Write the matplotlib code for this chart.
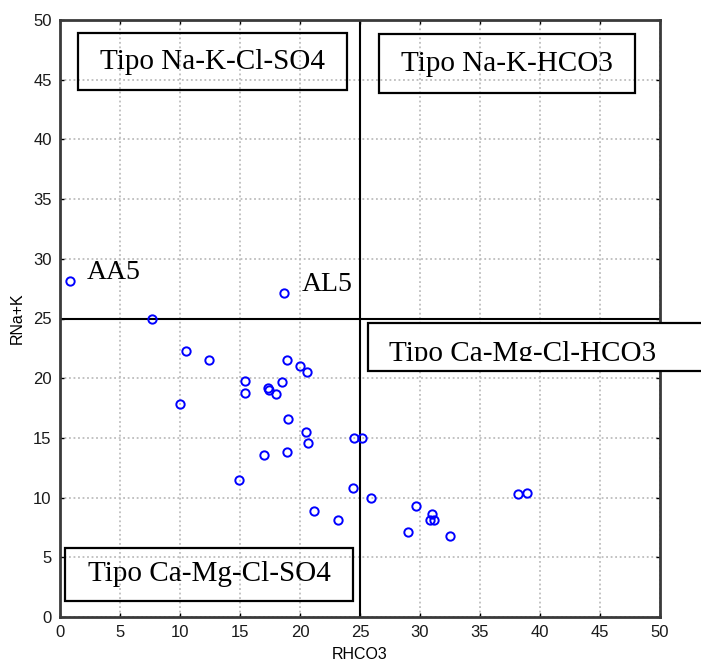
import matplotlib.pyplot as plt
import matplotlib.patches as patches
import numpy as np

# bicarbonate vs alkali ratios for each sample
rhco3 = [0.8, 7.7, 10.5, 12.4, 18.7, 18.9, 20.0, 20.6, 15.4, 15.4,
         17.3, 17.4, 18.0, 18.5, 10.0, 19.0, 20.5, 20.7, 24.5, 25.2,
         17.0, 18.9, 14.9, 24.4, 25.9, 21.2, 23.2, 29.7, 31.0, 30.8,
         31.2, 29.0, 32.5, 38.2, 38.9]
rnak = [28.1, 25.0, 22.3, 21.5, 27.1, 21.5, 21.0, 20.5, 19.8, 18.8,
        19.2, 19.0, 18.7, 19.7, 17.8, 16.6, 15.5, 14.6, 15.0, 15.0,
        13.6, 13.8, 11.5, 10.8, 10.0, 8.9, 8.1, 9.3, 8.6, 8.1,
        8.1, 7.1, 6.8, 10.3, 10.4]

# labelled samples
sample_names = ['AA5', 'AL5']
sample_x = [0.8, 18.7]
sample_y = [28.1, 27.1]

# quadrant limits
lim_hco3 = 25
lim_nak = 25

fig = plt.figure(figsize=(7.01, 6.68), dpi=100)
ax = fig.add_axes([60 / 701, 51 / 668, 600 / 701, 597 / 668])

ax.set_xlim(0, 50)
ax.set_ylim(0, 50)
ax.set_xticks(np.arange(0, 51, 5))
ax.set_yticks(np.arange(0, 51, 5))
ax.grid(ls=(0, (1, 1.5)), color='#bdbdbd', lw=1.3)
ax.set_axisbelow(True)
ax.tick_params(direction='in', length=3, width=1, top=True, right=True,
               labelsize=12, labelcolor='#1a1a1a', pad=6)
for lab in ax.get_xticklabels() + ax.get_yticklabels():
    lab.set_family('Liberation Sans')
for sp in ax.spines.values():
    sp.set_linewidth(2)
    sp.set_color('#3a3a3a')

ax.axvline(lim_hco3, color='k', lw=1.5)
ax.axhline(lim_nak, color='k', lw=1.5)

ax.plot(rhco3, rnak, ls='none', marker='o', ms=6, mfc='none', mec='#0000ff', mew=1.4)

ax.set_xlabel('RHCO3', family='Liberation Sans', fontsize=11.5, labelpad=5)
ax.set_ylabel('RNa+K', family='Liberation Sans', fontsize=11.5, labelpad=6)

serif = 'Liberation Serif'
for name, x, y in zip(sample_names, sample_x, sample_y):
    ax.text(x + 1.45, y + 0.2, name, family=serif, fontsize=20, va='baseline')

# water type boxes
boxes = [
    ('Tipo Na-K-Cl-SO4', 1.5, 44.1, 22.4, 4.8),
    ('Tipo Na-K-HCO3', 26.6, 43.9, 21.3, 4.9),
    ('Tipo Ca-Mg-Cl-SO4', 0.42, 1.34, 24.0, 4.45),
]
for label, x0, y0, w, h in boxes:
    ax.add_patch(patches.Rectangle((x0, y0), w, h, fill=False, ec='k', lw=1.6, clip_on=False, zorder=4))
    ax.text(x0 + w / 2, y0 + h / 2, label, family=serif, fontsize=21,
            ha='center', va='center', zorder=5)

# the lower right box runs past the frame and cuts its own text
ax.add_patch(patches.Rectangle((25.67, 20.6), 30, 4.0, fc='white', ec='k', lw=1.6, clip_on=False, zorder=4))
clip = patches.Rectangle((25.67, 21.42), 30, 3.5, transform=ax.transData, visible=False)
ax.add_patch(clip)
t = ax.text(27.4, 21.47, 'Tipo Ca-Mg-Cl-HCO3', family=serif, fontsize=21, va='baseline', zorder=5)
t.set_clip_on(True)
t.set_clip_path(clip)

fig.savefig('out.png', dpi=100)
